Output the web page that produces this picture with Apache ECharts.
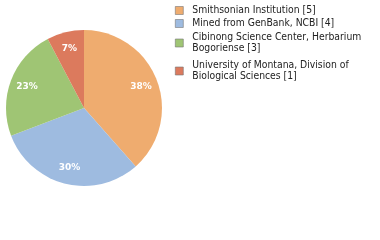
<!DOCTYPE html>
<html><head><meta charset="utf-8">
<script src="https://cdn.jsdelivr.net/npm/echarts@6/dist/echarts.min.js"></script>
<style>html,body{margin:0;padding:0;background:#fff}#c{width:380px;height:240px}</style>
</head><body><div id="c"></div>
<script>
var categories = ["Smithsonian Institution", "Mined from GenBank, NCBI", "Cibinong Science Center, Herbarium\nBogoriense", "University of Montana, Division of\nBiological Sciences"];
var values = [5, 4, 3, 1];
var colors = ["#efac6f", "#9ebbe0", "#9fc574", "#dc7a5d"];
var legendTops = [5, 18, 32, 60];
var total = values.reduce(function(a,b){return a+b;},0);
var data = categories.map(function(c,i){return {name:c, value:values[i], itemStyle:{color:colors[i]}};});
var labelData = categories.map(function(c,i){return {name:c, value:values[i], itemStyle:{color:'rgba(0,0,0,0)'}};});
var font = '"DejaVu Sans Condensed", "DejaVu Sans", sans-serif';
var legends = categories.map(function(c,i){
  return {
    orient:'vertical', left:175, top:legendTops[i], padding:0, itemWidth:8, itemHeight:8, itemGap:0,
    icon:'rect', data:[c], selectedMode:false,
    formatter:function(n){return n+' ['+values[categories.indexOf(n)]+']';},
    textStyle:{fontFamily:font, fontSize:10.3, color:'#222', lineHeight:11, padding:[0,0,0,4]},
    itemStyle:{borderColor:'#777', borderWidth:0.6}
  };
});
var chart = echarts.init(document.getElementById('c'), null, {renderer:'canvas'});
chart.setOption({
  animation:false,
  legend: legends,
  series:[
    {type:'pie', center:[84,108], radius:[0,78], startAngle:90, clockwise:true, silent:true,
     label:{show:false}, labelLine:{show:false}, data:data,
     itemStyle:{borderWidth:0}},
    {type:'pie', center:[84,108], radius:[0,116], startAngle:90, clockwise:true, silent:true,
     label:{show:true, position:'inside', color:'#fff', fontFamily:'"DejaVu Sans", sans-serif', fontSize:9, fontWeight:'bold',
       formatter:function(p){return Math.floor(p.value/total*100)+'%';}},
     labelLine:{show:false}, data:labelData, legendHoverLink:false}
  ]
});
</script></body></html>
